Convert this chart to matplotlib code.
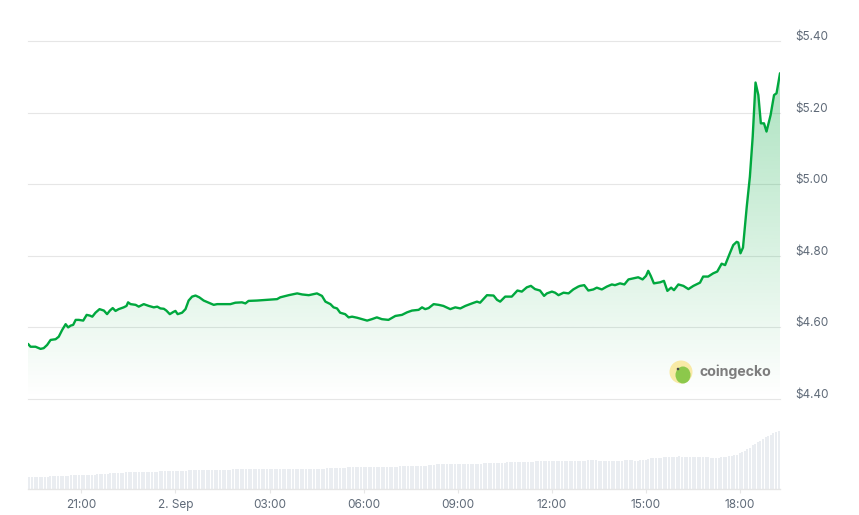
import numpy as np
import matplotlib
matplotlib.use("Agg")
import matplotlib.pyplot as plt
from matplotlib.patches import Polygon, Circle, Ellipse
from matplotlib.transforms import ScaledTranslation

# ---------------- data ----------------
# hours relative to 2 Sep 00:00
price_hours = [-4.70, -4.62, -4.46, -4.30, -4.20, -4.09, -3.98, -3.82, -3.72, -3.61,
               -3.50, -3.42, -3.34, -3.26, -3.18, -3.08, -2.94, -2.83, -2.73, -2.65,
               -2.55, -2.42, -2.28, -2.18, -2.09, -2.00, -1.91, -1.81, -1.65, -1.56,
               -1.51, -1.43, -1.27, -1.17, -1.01, -0.85, -0.69, -0.58, -0.48, -0.37,
               -0.29, -0.18, -0.07, 0.00, 0.07, 0.21, 0.32, 0.42, 0.53, 0.64,
               0.76, 0.90, 1.06, 1.22, 1.33, 1.54, 1.75, 1.91, 2.12, 2.23,
               2.33, 2.60, 2.92, 3.24, 3.34, 3.61, 3.88, 4.04, 4.25, 4.51,
               4.67, 4.78, 4.94, 5.04, 5.15, 5.25, 5.41, 5.52, 5.63, 5.79,
               5.95, 6.11, 6.26, 6.42, 6.58, 6.79, 7.01, 7.22, 7.38, 7.54,
               7.75, 7.86, 7.96, 8.07, 8.23, 8.39, 8.54, 8.76, 8.92, 9.08,
               9.24, 9.45, 9.61, 9.71, 9.93, 10.14, 10.25, 10.35, 10.51, 10.72,
               10.90, 11.04, 11.20, 11.33, 11.46, 11.62, 11.75, 11.84, 12.00, 12.10,
               12.21, 12.37, 12.53, 12.68, 12.84, 12.90, 13.03, 13.16, 13.32, 13.43,
               13.59, 13.75, 13.91, 14.01, 14.17, 14.31, 14.44, 14.60, 14.75, 14.89,
               15.00, 15.07, 15.15, 15.25, 15.45, 15.57, 15.68, 15.80, 15.89, 16.03,
               16.19, 16.35, 16.51, 16.72, 16.82, 16.98, 17.14, 17.27, 17.41, 17.52,
               17.68, 17.78, 17.89, 17.94, 18.01, 18.09, 18.21, 18.31, 18.40, 18.49,
               18.58, 18.66, 18.76, 18.84, 18.97, 19.08, 19.16, 19.27]
price_usd = [4.554, 4.546, 4.546, 4.540, 4.542, 4.551, 4.565, 4.567, 4.574, 4.593,
             4.609, 4.600, 4.605, 4.607, 4.621, 4.621, 4.619, 4.635, 4.633, 4.630,
             4.641, 4.651, 4.647, 4.637, 4.647, 4.654, 4.646, 4.651, 4.656, 4.660,
             4.670, 4.665, 4.663, 4.658, 4.665, 4.660, 4.656, 4.658, 4.653, 4.652,
             4.647, 4.637, 4.643, 4.646, 4.637, 4.641, 4.651, 4.675, 4.686, 4.689,
             4.684, 4.675, 4.669, 4.663, 4.665, 4.665, 4.665, 4.669, 4.670, 4.667,
             4.674, 4.675, 4.677, 4.679, 4.684, 4.690, 4.695, 4.692, 4.690, 4.695,
             4.688, 4.672, 4.665, 4.656, 4.653, 4.641, 4.637, 4.628, 4.630, 4.627,
             4.623, 4.619, 4.623, 4.628, 4.623, 4.621, 4.632, 4.635, 4.642, 4.647,
             4.649, 4.656, 4.651, 4.654, 4.665, 4.663, 4.660, 4.651, 4.656, 4.653,
             4.660, 4.667, 4.672, 4.669, 4.690, 4.689, 4.677, 4.672, 4.686, 4.686,
             4.703, 4.700, 4.712, 4.716, 4.707, 4.703, 4.688, 4.695, 4.700, 4.697,
             4.690, 4.697, 4.695, 4.706, 4.714, 4.716, 4.718, 4.703, 4.706, 4.711,
             4.706, 4.714, 4.720, 4.718, 4.723, 4.720, 4.734, 4.737, 4.740, 4.734,
             4.744, 4.758, 4.744, 4.723, 4.726, 4.730, 4.702, 4.711, 4.704, 4.720,
             4.716, 4.707, 4.716, 4.725, 4.742, 4.742, 4.751, 4.756, 4.778, 4.774,
             4.809, 4.830, 4.839, 4.837, 4.807, 4.823, 4.937, 5.021, 5.133, 5.284,
             5.249, 5.170, 5.170, 5.147, 5.193, 5.249, 5.254, 5.310]

# 5-minute volume bars (run-length: level in $M, number of consecutive bars)
vol_levels = [1.23, 1.33, 1.43, 1.53, 1.63, 1.73, 1.83, 1.93, 2.03, 2.13,
              2.23, 2.33, 2.43, 2.53, 2.63, 2.73, 2.83, 2.93, 2.83, 2.93,
              2.83, 2.93, 3.03, 3.13, 3.23, 3.33, 3.23, 3.13, 3.23, 3.33,
              3.43, 3.63, 3.73, 3.83, 4.00, 4.13, 4.40, 4.53, 4.70, 4.83,
              5.03, 5.20, 5.33, 5.43, 5.60, 5.73, 5.83]
vol_counts = [8, 8, 10, 5, 6, 13, 11, 17, 36, 8,
              20, 11, 3, 18, 9, 11, 20, 4, 10, 4,
              2, 3, 1, 5, 6, 1, 11, 4, 3, 2,
              2, 1, 1, 1, 1, 1, 1, 1, 1, 1,
              1, 1, 1, 1, 1, 1, 1]

x_tick_hours = [-3, 0, 3, 6, 9, 12, 15, 18]
x_tick_labels = ["21:00", "2. Sep", "03:00", "06:00", "09:00", "12:00", "15:00", "18:00"]
y_ticks = [4.40, 4.60, 4.80, 5.00, 5.20, 5.40]

# ---------------- style ----------------
plt.rcParams['font.family'] = ['Inter', 'DejaVu Sans']
LINE = '#00a83e'
GRID = '#e6e6e6'
LABEL = '#5f6a78'
BAR = '#eaedf1'

W, H = 859, 515
fig = plt.figure(figsize=(W / 100, H / 100), dpi=100)
fig.patch.set_facecolor('white')

axv = fig.add_axes([28 / W, 1 - 489 / H, 752 / W, 90 / H])
ax = fig.add_axes([28 / W, 1 - 399 / H, 752 / W, 358 / H])
ax.set_zorder(2)
ax.patch.set_alpha(0)
axv.patch.set_alpha(0)

t = np.array(price_hours)
p = np.array(price_usd)
t0, t1 = t[0], t[-1]

# price panel
ax.set_xlim(t0, t1)
ax.set_ylim(4.40, 5.40)
for s in ax.spines.values():
    s.set_visible(False)
ax.set_xticks([])
ax.set_yticks([])
for yv in y_ticks:
    ax.axhline(yv, color=GRID, lw=0.8, zorder=0, clip_on=False)
off = ScaledTranslation(15 / 100, 4 / 100, fig.dpi_scale_trans)
for yv in y_ticks:
    ax.text(1.0, yv, f"${yv:.2f}", transform=ax.get_yaxis_transform() + off,
            ha='left', va='center', color=LABEL, fontsize=8.5, clip_on=False)

# gradient fill under the line
a0 = 0.36
grad = np.zeros((256, 1, 4))
grad[:, 0, 0] = 0 / 255
grad[:, 0, 1] = 168 / 255
grad[:, 0, 2] = 62 / 255
grad[:, 0, 3] = np.linspace(0, a0, 256)
im = ax.imshow(grad, extent=[t0, t1, 4.40, 5.40], origin='lower', aspect='auto',
               interpolation='bilinear', zorder=1)
verts = [(t0, 4.40)] + list(zip(t, p)) + [(t1, 4.40)]
poly = Polygon(verts, closed=True, facecolor='none', edgecolor='none', transform=ax.transData)
ax.add_patch(poly)
im.set_clip_path(poly)
ax.plot(t, p, color=LINE, lw=1.7, solid_joinstyle='round', solid_capstyle='round', zorder=3)

# volume panel
vols = np.repeat(vol_levels, vol_counts)
n = len(vols)
dt = (t1 - t0) / n
centers = t0 + (np.arange(n) + 0.5) * dt
axv.bar(centers, vols, width=dt * 0.75, color=BAR, linewidth=0, zorder=1)
axv.set_xlim(t0, t1)
axv.set_ylim(0, 9.0)
for s in axv.spines.values():
    s.set_visible(False)
axv.axhline(0, color=GRID, lw=1.0, zorder=2, clip_on=False)
axv.set_yticks([])
axv.set_xticks(x_tick_hours)
axv.set_xticklabels(x_tick_labels)
axv.tick_params(axis='x', length=3, width=0.8, color=GRID, pad=4, labelsize=8.5, labelcolor=LABEL)

# watermark
ov = fig.add_axes([0, 0, 1, 1], zorder=5)
ov.set_xlim(0, W)
ov.set_ylim(H, 0)
ov.axis('off')
ov.patch.set_alpha(0)
ov.add_patch(Circle((681, 372), 11.5, facecolor='#f8eaa6', edgecolor='none'))
ov.add_patch(Ellipse((683, 375), 15, 17, facecolor='#8cc84b', edgecolor='none'))
ov.add_patch(Circle((678, 369), 1.3, facecolor='#4a4a4a', edgecolor='none'))
ov.text(700, 372, "coingecko", ha='left', va='center', fontsize=10.2, fontweight='bold',
        color='#7d7d7d')

fig.savefig("out.png", dpi=100, facecolor='white')
